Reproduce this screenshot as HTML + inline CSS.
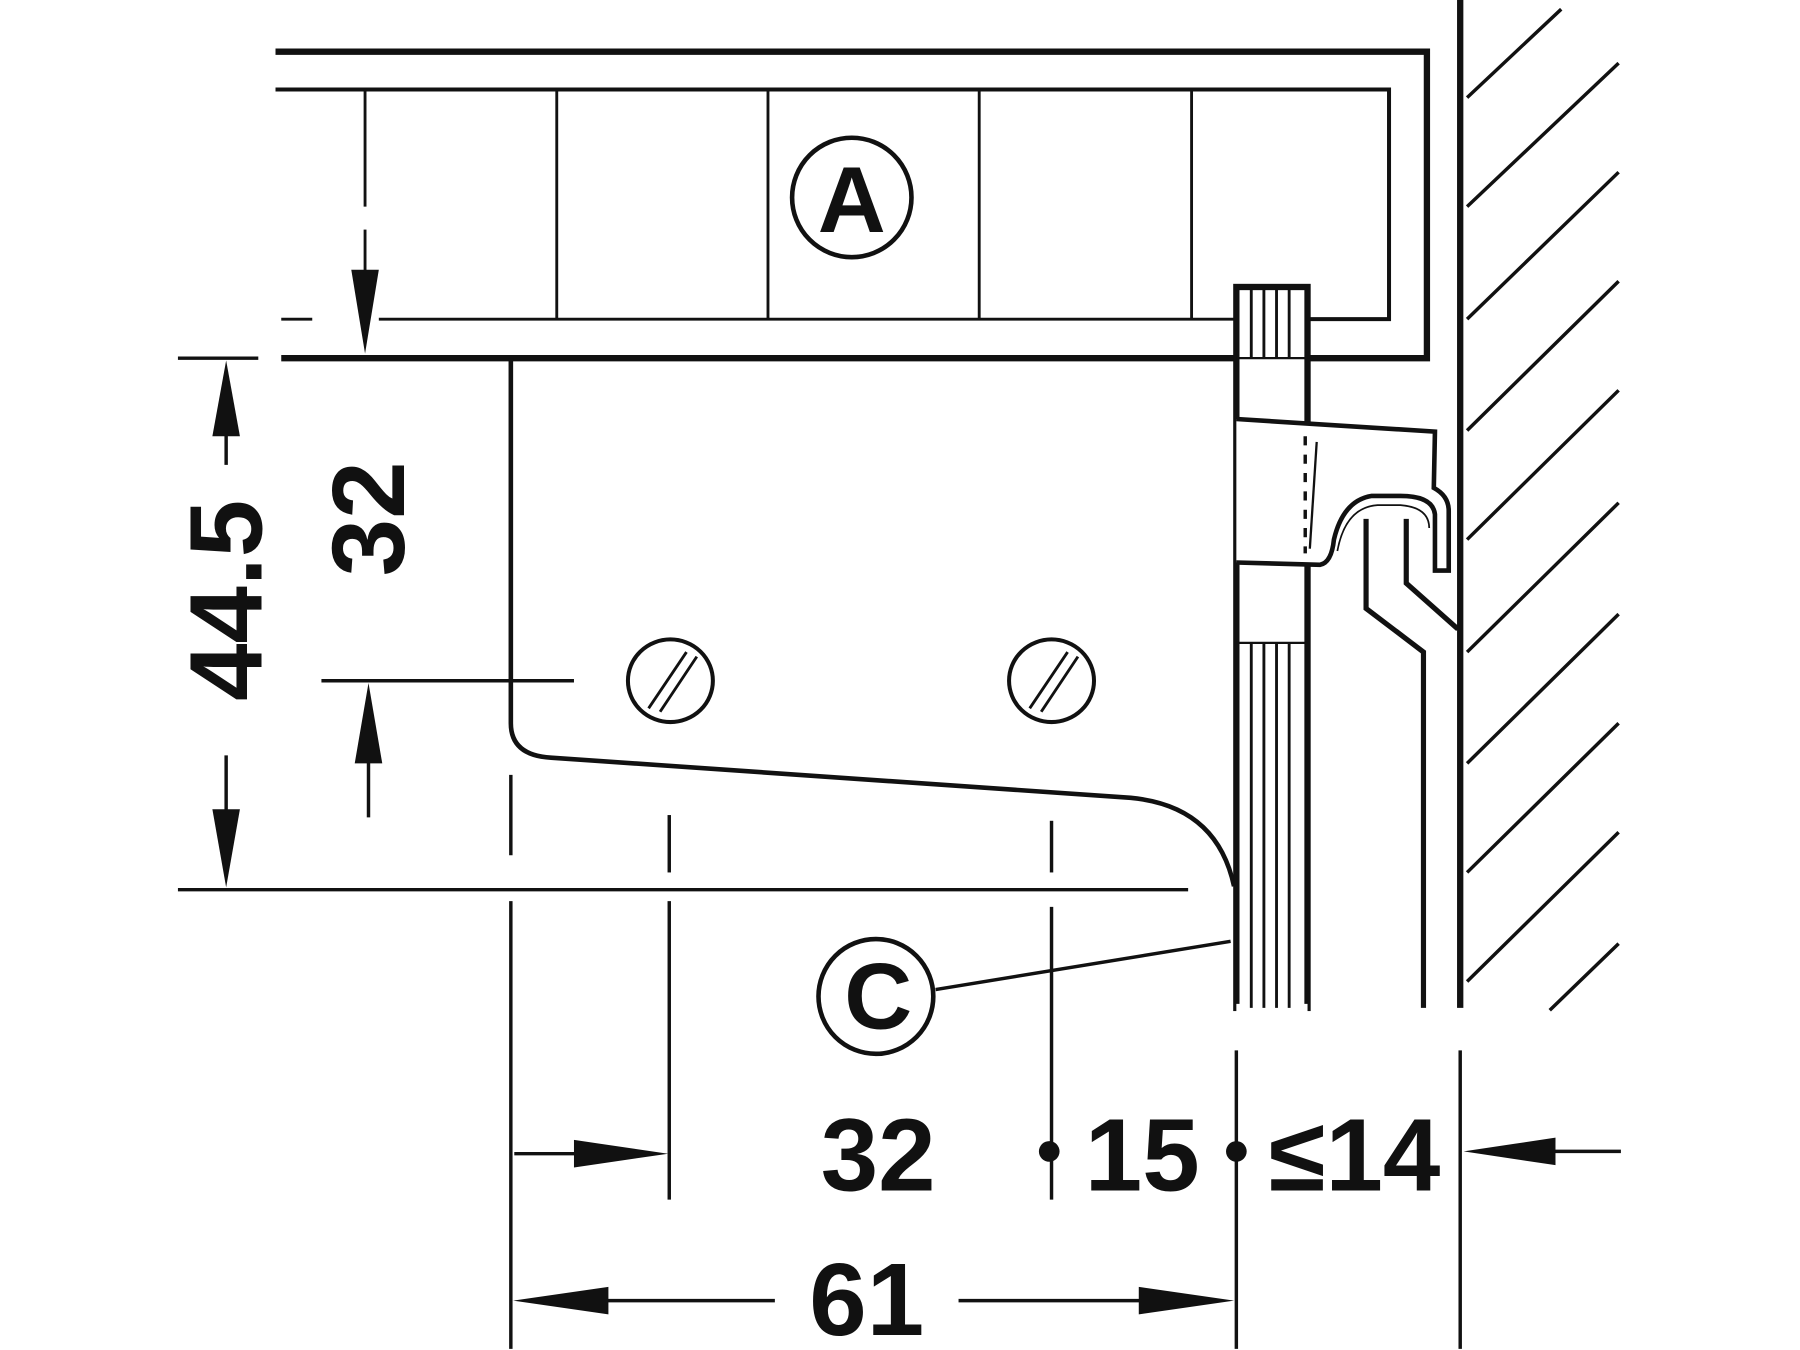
<!DOCTYPE html>
<html><head><style>html,body{margin:0;padding:0;background:#fff}svg{display:block}</style></head>
<body>
<svg width="1800" height="1350" viewBox="0 0 1568 1176" preserveAspectRatio="none" xmlns="http://www.w3.org/2000/svg">
<g fill="none" stroke="#111" stroke-linecap="butt">
<!-- shelf -->
<polyline points="240,45 1243,45 1243,312 1140,312" stroke-width="5.5"/>
<polyline points="240,78 1210,78 1210,278 1140,278" stroke-width="3.5"/>
<line x1="245" y1="312" x2="1075" y2="312" stroke-width="5.5"/>
<line x1="245" y1="278" x2="272" y2="278" stroke-width="2.5"/>
<line x1="330" y1="278" x2="1075" y2="278" stroke-width="2.5"/>
<g stroke-width="2.5">
<line x1="318" y1="78" x2="318" y2="180"/>
<line x1="485" y1="78" x2="485" y2="278"/>
<line x1="669" y1="78" x2="669" y2="278"/>
<line x1="853" y1="78" x2="853" y2="278"/>
<line x1="1038" y1="78" x2="1038" y2="278"/>
<line x1="318" y1="200" x2="318" y2="250"/>
</g>
<circle cx="742" cy="172" r="52" stroke-width="4"/>
<!-- bracket -->
<path d="M445,312 L445,630 Q445,658 480,660 L985,695 Q1060,702 1075,772" stroke-width="4"/>
<ellipse cx="584" cy="593" rx="37" ry="36" stroke-width="3.5"/>
<ellipse cx="916" cy="593" rx="37" ry="36" stroke-width="3.5"/>
<g stroke-width="2.5">
<line x1="565" y1="617" x2="598" y2="568"/><line x1="575" y1="620" x2="607" y2="572"/>
<line x1="897" y1="617" x2="930" y2="568"/><line x1="907" y1="620" x2="939" y2="572"/>
</g>
<!-- post -->
<rect x="1077" y="250" width="62" height="628" stroke-width="5.5" fill="#fff"/>
<line x1="1077" y1="878" x2="1139" y2="878" stroke="#fff" stroke-width="7"/>
<line x1="1077" y1="312" x2="1139" y2="312" stroke-width="2"/>
<line x1="1077" y1="560" x2="1139" y2="560" stroke-width="2"/>
<g stroke-width="2.5">
<line x1="1090" y1="252" x2="1090" y2="312"/><line x1="1101" y1="252" x2="1101" y2="312"/><line x1="1112" y1="252" x2="1112" y2="312"/><line x1="1123" y1="252" x2="1123" y2="312"/>
<line x1="1090" y1="560" x2="1090" y2="878"/><line x1="1101" y1="560" x2="1101" y2="878"/><line x1="1112" y1="560" x2="1112" y2="878"/><line x1="1123" y1="560" x2="1123" y2="878"/>
</g>
<!-- clip -->
<path d="M1077,365 L1250,376 L1249,425 Q1262,432 1262,445 L1262,497 L1250,497 L1250,448 Q1248,432 1220,432 L1195,432 Q1170,436 1162,470 Q1160,490 1150,492 L1077,490" stroke-width="4" fill="#fff"/>
<path d="M1165,480 Q1172,442 1200,440 L1220,440 Q1245,442 1245,460" stroke-width="1.5"/>
<line x1="1137" y1="380" x2="1137" y2="482" stroke-width="3" stroke-dasharray="8,8"/>
<line x1="1147" y1="385" x2="1141" y2="478" stroke-width="2"/>
<!-- rail -->
<polyline points="1190,452 1190,530 1240,568 1240,878" stroke-width="4.5"/>
<polyline points="1225,452 1225,508 1270,548" stroke-width="4.5"/>
<!-- wall -->
<line x1="1272" y1="0" x2="1272" y2="878" stroke-width="5.5"/>
<g stroke-width="3">
<line x1="1278" y1="85" x2="1360" y2="8"/>
<line x1="1278" y1="180" x2="1410" y2="55"/>
<line x1="1278" y1="278" x2="1410" y2="150"/>
<line x1="1278" y1="375" x2="1410" y2="245"/>
<line x1="1278" y1="470" x2="1410" y2="340"/>
<line x1="1278" y1="568" x2="1410" y2="438"/>
<line x1="1278" y1="665" x2="1410" y2="535"/>
<line x1="1278" y1="760" x2="1410" y2="630"/>
<line x1="1278" y1="855" x2="1410" y2="725"/>
<line x1="1350" y1="880" x2="1410" y2="822"/>
</g>
<!-- dimensions -->
<g stroke-width="3">
<line x1="155" y1="312" x2="225" y2="312"/>
<line x1="155" y1="775" x2="1035" y2="775"/>
<line x1="197" y1="340" x2="197" y2="405"/>
<line x1="197" y1="658" x2="197" y2="750"/>
<line x1="280" y1="593" x2="500" y2="593"/>
<line x1="321" y1="620" x2="321" y2="712"/>
<line x1="445" y1="675" x2="445" y2="745"/>
<line x1="445" y1="785" x2="445" y2="1175"/>
<line x1="583" y1="710" x2="583" y2="760"/>
<line x1="583" y1="785" x2="583" y2="1045"/>
<line x1="916" y1="715" x2="916" y2="760"/>
<line x1="916" y1="790" x2="916" y2="1045"/>
<line x1="1077" y1="915" x2="1077" y2="1175"/>
<line x1="1272" y1="915" x2="1272" y2="1175"/>
<line x1="448" y1="1005" x2="510" y2="1005"/>
<line x1="1350" y1="1003" x2="1412" y2="1003"/>
<line x1="520" y1="1133" x2="675" y2="1133"/>
<line x1="835" y1="1133" x2="1000" y2="1133"/>
<line x1="815" y1="862" x2="1072" y2="820"/>
</g>
<circle cx="763" cy="868" r="50" stroke-width="4"/>
</g>
<g fill="#111">
<polygon points="318,308 306,235 330,235"/>
<polygon points="197,314 185,380 209,380"/>
<polygon points="197,773 185,705 209,705"/>
<polygon points="321,595 309,665 333,665"/>
<polygon points="582,1005 500,993 500,1017"/>
<polygon points="1275,1003 1355,991 1355,1015"/>
<polygon points="447,1133 530,1121 530,1145"/>
<polygon points="1075,1133 992,1121 992,1145"/>
<circle cx="914" cy="1003" r="9"/>
<circle cx="1077" cy="1003" r="9"/>
</g>
<g font-family="Liberation Sans, sans-serif" font-weight="bold" fill="#111" text-anchor="middle">
<text x="742" y="202" font-size="82">A</text>
<text x="765" y="896" font-size="82">C</text>
<text x="765" y="1037" font-size="90">32</text>
<text x="995" y="1037" font-size="90">15</text>
<text x="1180" y="1037" font-size="90">≤14</text>
<text x="755" y="1163" font-size="90">61</text>
<text transform="translate(228,523) rotate(-90)" font-size="90">44.5</text>
<text transform="translate(352,452) rotate(-90)" font-size="90">32</text>
</g>
</svg>
</body></html>
